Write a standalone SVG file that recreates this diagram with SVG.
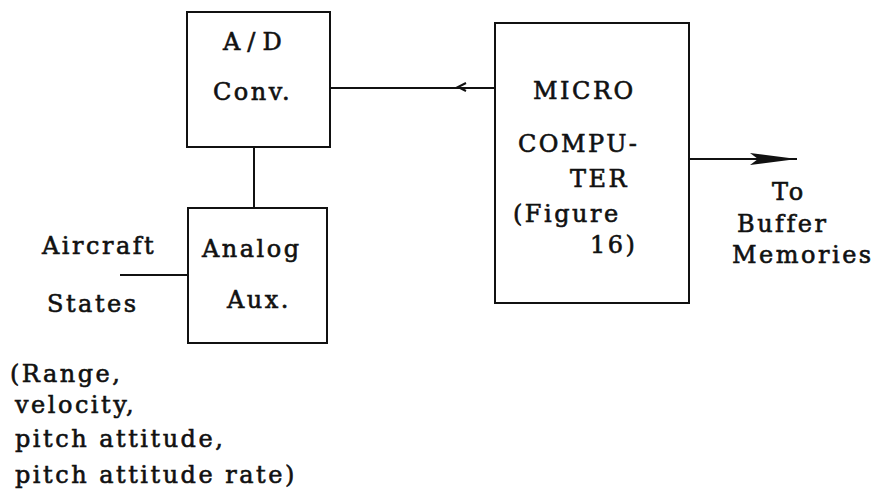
<svg xmlns="http://www.w3.org/2000/svg" width="886" height="494" viewBox="0 0 886 494">
<defs>
<style>
.box{fill:none;stroke:#111;stroke-width:2}
.ln{fill:none;stroke:#111;stroke-width:2}
text{font-family:"DejaVu Serif","Liberation Serif",serif;font-size:24px;fill:#111;stroke:#111;stroke-width:0.6px;letter-spacing:2.5px}
</style>
<marker id="ah" viewBox="0 0 48 14" refX="47" refY="7" markerWidth="48" markerHeight="14" markerUnits="userSpaceOnUse" orient="auto">
<path d="M0,1 L47,7 L0,13 L8,7 Z" fill="#111"/>
</marker>
</defs>
<rect width="886" height="494" fill="#fff"/>
<g id="connectors">
<path class="ln" d="M330,88 H495"/>
<path class="ln" d="M466,83 L458,87 L466,91"/>
<path class="ln" d="M689,159 H797" marker-end="url(#ah)"/>
<path class="ln" d="M254,147 V208"/>
<path class="ln" d="M120,275 H188"/>
</g>
<g id="ad-conv">
<rect class="box" x="187" y="12" width="143" height="135"/>
<text x="223" y="50" style="letter-spacing:7px">A/D</text>
<text x="213" y="100">Conv.</text>
</g>
<g id="analog-aux">
<rect class="box" x="188" y="208" width="139" height="135"/>
<text x="202" y="257">Analog</text>
<text x="227" y="308">Aux.</text>
</g>
<g id="microcomputer">
<rect class="box" x="495" y="23" width="194" height="280"/>
<text x="533" y="99">MICRO</text>
<text x="518" y="152">COMPU-</text>
<text x="570" y="187">TER</text>
<text x="513" y="222">(Figure</text>
<text x="590" y="253">16)</text>
</g>
<g id="output-label">
<text x="772" y="200">To</text>
<text x="737" y="232">Buffer</text>
<text x="732" y="263">Memories</text>
</g>
<g id="input-label">
<text x="42" y="254">Aircraft</text>
<text x="47" y="312">States</text>
<text x="10" y="382">(Range,</text>
<text x="15" y="413">velocity,</text>
<text x="15" y="447">pitch attitude,</text>
<text x="15" y="483">pitch attitude rate)</text>
</g>
</svg>
